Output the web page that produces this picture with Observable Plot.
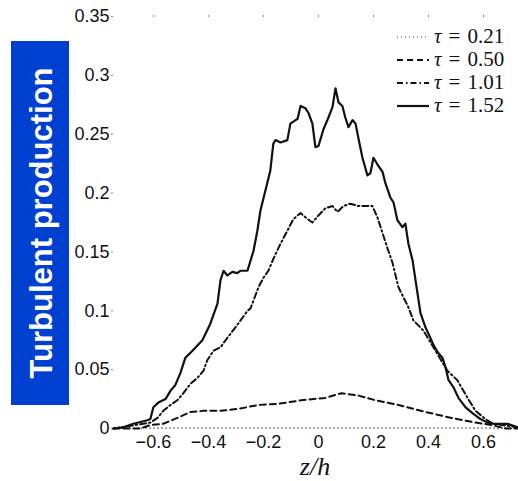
<!DOCTYPE html>
<html>
<head>
<meta charset="utf-8">
<script src="https://cdn.jsdelivr.net/npm/d3@7"></script>
<script src="https://cdn.jsdelivr.net/npm/@observablehq/plot@0.6"></script>
<style>
  html, body { margin: 0; padding: 0; background: #fff; }
  #wrap { position: relative; width: 518px; height: 481px; overflow: hidden; }
  #wrap > svg.plot { position: absolute; left: 0; top: 0; }
  #ylab { position: absolute; left: 11px; top: 41px; width: 58px; height: 364px; background: #0040d0; }
  #legend { position: absolute; left: 396px; top: 25px; font-family: "Liberation Serif", "DejaVu Serif", serif; font-size: 21px; color: #111; }
  #legend .row { display: flex; align-items: center; height: 23px; white-space: nowrap; }
  #legend svg { width: 34px; height: 10px; margin-right: 4px; flex: none; }
  #legend .eq { margin: 0 7px; }
</style>
</head>
<body>
<div id="wrap"></div>
<script>
// ---- data ----
const seriesNames = ["τ = 0.21", "τ = 0.50", "τ = 1.01", "τ = 1.52"];

const z_021 = [-0.745, -0.6, -0.4, -0.2, 0, 0.2, 0.4, 0.6, 0.72];
const v_021 = [0.0003, 0.0004, 0.0004, 0.0004, 0.0004, 0.0004, 0.0004, 0.0004, 0.0003];

const z_050 = [-0.745, -0.647, -0.611, -0.564, -0.513, -0.465, -0.418, -0.356, -0.284, -0.218, -0.145, -0.062, 0.025, 0.084, 0.145, 0.207, 0.291, 0.389, 0.484, 0.571, 0.629, 0.68, 0.724];
const v_050 = [0, 0, 0.003, 0.004, 0.009, 0.014, 0.015, 0.015, 0.017, 0.020, 0.021, 0.024, 0.026, 0.030, 0.028, 0.024, 0.020, 0.014, 0.009, 0.005, 0.003, 0, 0];

const z_101 = [-0.745, -0.636, -0.611, -0.585, -0.564, -0.538, -0.513, -0.491, -0.465, -0.44, -0.418, -0.404, -0.382, -0.356, -0.331, -0.295, -0.258, -0.247, -0.218, -0.2, -0.182, -0.164, -0.138, -0.113, -0.091, -0.065, -0.04, -0.022, 0, 0.025, 0.051, 0.069, 0.091, 0.116, 0.145, 0.178, 0.196, 0.215, 0.233, 0.251, 0.269, 0.291, 0.327, 0.345, 0.382, 0.418, 0.469, 0.505, 0.542, 0.571, 0.607, 0.636, 0.724];
const v_101 = [0, 0.004, 0.005, 0.009, 0.015, 0.020, 0.024, 0.030, 0.038, 0.043, 0.049, 0.058, 0.066, 0.069, 0.077, 0.088, 0.100, 0.102, 0.120, 0.128, 0.134, 0.144, 0.157, 0.168, 0.178, 0.183, 0.178, 0.175, 0.181, 0.187, 0.189, 0.184, 0.189, 0.191, 0.189, 0.189, 0.189, 0.179, 0.166, 0.153, 0.141, 0.120, 0.103, 0.092, 0.083, 0.069, 0.049, 0.041, 0.026, 0.015, 0.008, 0.004, 0.001];

const z_152 = [-0.745, -0.709, -0.673, -0.622, -0.611, -0.6, -0.582, -0.556, -0.538, -0.52, -0.502, -0.484, -0.458, -0.422, -0.393, -0.367, -0.356, -0.345, -0.331, -0.313, -0.295, -0.284, -0.258, -0.236, -0.222, -0.211, -0.193, -0.175, -0.164, -0.156, -0.138, -0.113, -0.102, -0.076, -0.065, -0.047, -0.036, -0.022, -0.011, 0, 0.018, 0.036, 0.051, 0.062, 0.073, 0.087, 0.098, 0.109, 0.124, 0.135, 0.145, 0.16, 0.178, 0.189, 0.2, 0.218, 0.233, 0.244, 0.262, 0.273, 0.287, 0.305, 0.316, 0.327, 0.342, 0.36, 0.371, 0.389, 0.407, 0.418, 0.433, 0.451, 0.462, 0.473, 0.491, 0.509, 0.535, 0.56, 0.589, 0.615, 0.636, 0.687, 0.724];
const v_152 = [0, 0.001, 0.004, 0.007, 0.008, 0.018, 0.022, 0.025, 0.032, 0.037, 0.047, 0.060, 0.066, 0.075, 0.089, 0.106, 0.126, 0.134, 0.130, 0.133, 0.132, 0.134, 0.134, 0.151, 0.168, 0.185, 0.202, 0.219, 0.242, 0.245, 0.243, 0.245, 0.259, 0.263, 0.274, 0.272, 0.268, 0.259, 0.239, 0.240, 0.254, 0.264, 0.273, 0.289, 0.277, 0.274, 0.264, 0.256, 0.262, 0.259, 0.247, 0.230, 0.215, 0.217, 0.230, 0.223, 0.218, 0.208, 0.196, 0.192, 0.177, 0.171, 0.174, 0.157, 0.143, 0.115, 0.098, 0.086, 0.077, 0.071, 0.065, 0.060, 0.052, 0.041, 0.035, 0.026, 0.018, 0.013, 0.008, 0.005, 0.004, 0.004, 0.001];

const yTicks = [0, 0.05, 0.1, 0.15, 0.2, 0.25, 0.3, 0.35];
const xTicks = [-0.6, -0.4, -0.2, 0, 0.2, 0.4, 0.6];
const yLabel = "Turbulent production";
const xLabel = "z/h";

// ---- build ----
const toRows = (zs, vs) => zs.map((z, i) => ({z, v: vs[i]}));
const d021 = toRows(z_021, v_021);
const d050 = toRows(z_050, v_050);
const d101 = toRows(z_101, v_101);
const d152 = toRows(z_152, v_152);

const fmtY = d => String(+d.toFixed(2));
const fmtX = d => d < 0 ? "\u2212" + String(+Math.abs(d).toFixed(1)) : String(+d.toFixed(1));

const styles = [
  {dash: "1,3", width: 1.1, color: "#444"},
  {dash: "6,4", width: 2, color: "#111"},
  {dash: "6,3,1.5,3", width: 2, color: "#111"},
  {dash: null, width: 2.2, color: "#111"}
];

const chart = Plot.plot({
  width: 518,
  height: 481,
  marginLeft: 113,
  marginRight: 2,
  marginTop: 16,
  marginBottom: 53,
  style: {fontFamily: "'Liberation Sans', Arial, sans-serif", fontSize: "18px", color: "#111", background: "transparent"},
  x: {domain: [-0.745, 0.72]},
  y: {domain: [0, 0.35]},
  marks: [
    Plot.axisY({ticks: yTicks, tickFormat: fmtY, tickSize: 2, tickPadding: 2, stroke: "#888", label: null, fontSize: 18}),
    Plot.axisX({ticks: xTicks, tickFormat: fmtX, tickSize: 0, tickPadding: 7, label: null, fontSize: 18}),
    Plot.axisX({anchor: "top", ticks: xTicks, tickFormat: () => "", text: null, tickSize: 2, stroke: "#888", label: null}),
    Plot.line(d021, {x: "z", y: "v", stroke: styles[0].color, strokeWidth: styles[0].width, strokeDasharray: styles[0].dash, curve: "linear"}),
    Plot.line(d050, {x: "z", y: "v", stroke: styles[1].color, strokeWidth: styles[1].width, strokeDasharray: styles[1].dash, curve: "linear"}),
    Plot.line(d101, {x: "z", y: "v", stroke: styles[2].color, strokeWidth: styles[2].width, strokeDasharray: styles[2].dash, curve: "linear"}),
    Plot.line(d152, {x: "z", y: "v", stroke: styles[3].color, strokeWidth: styles[3].width, curve: "linear"}),
    Plot.text([xLabel], {frameAnchor: "bottom", dy: 46, text: d => d, fontFamily: "'Liberation Serif', 'DejaVu Serif', serif", fontStyle: "italic", fontSize: 26, fill: "#111", lineAnchor: "bottom", style: "letter-spacing:3px"})
  ]
});

const wrap = document.getElementById("wrap");
wrap.appendChild(chart);

// y label box
const ylab = document.createElement("div");
ylab.id = "ylab";
ylab.innerHTML = `<svg width="58" height="364" xmlns="http://www.w3.org/2000/svg">
  <text transform="translate(41,182) rotate(-90)" text-anchor="middle" fill="#fff"
   font-family="'Liberation Sans', Arial, sans-serif" font-weight="bold" font-size="31">${yLabel}</text></svg>`;
wrap.appendChild(ylab);

// legend
const legend = document.createElement("div");
legend.id = "legend";
seriesNames.forEach((name, i) => {
  const s = styles[i];
  const row = document.createElement("div");
  row.className = "row";
  const parts = name.split(" = ");
  row.innerHTML = `<svg><line x1="1" y1="5" x2="33" y2="5" stroke="${s.color}" stroke-width="${s.width}" ${s.dash ? `stroke-dasharray="${s.dash}"` : ""}/></svg><span><i>${parts[0]}</i><span class="eq">=</span>${parts[1]}</span>`;
  legend.appendChild(row);
});
wrap.appendChild(legend);
</script>
</body>
</html>
